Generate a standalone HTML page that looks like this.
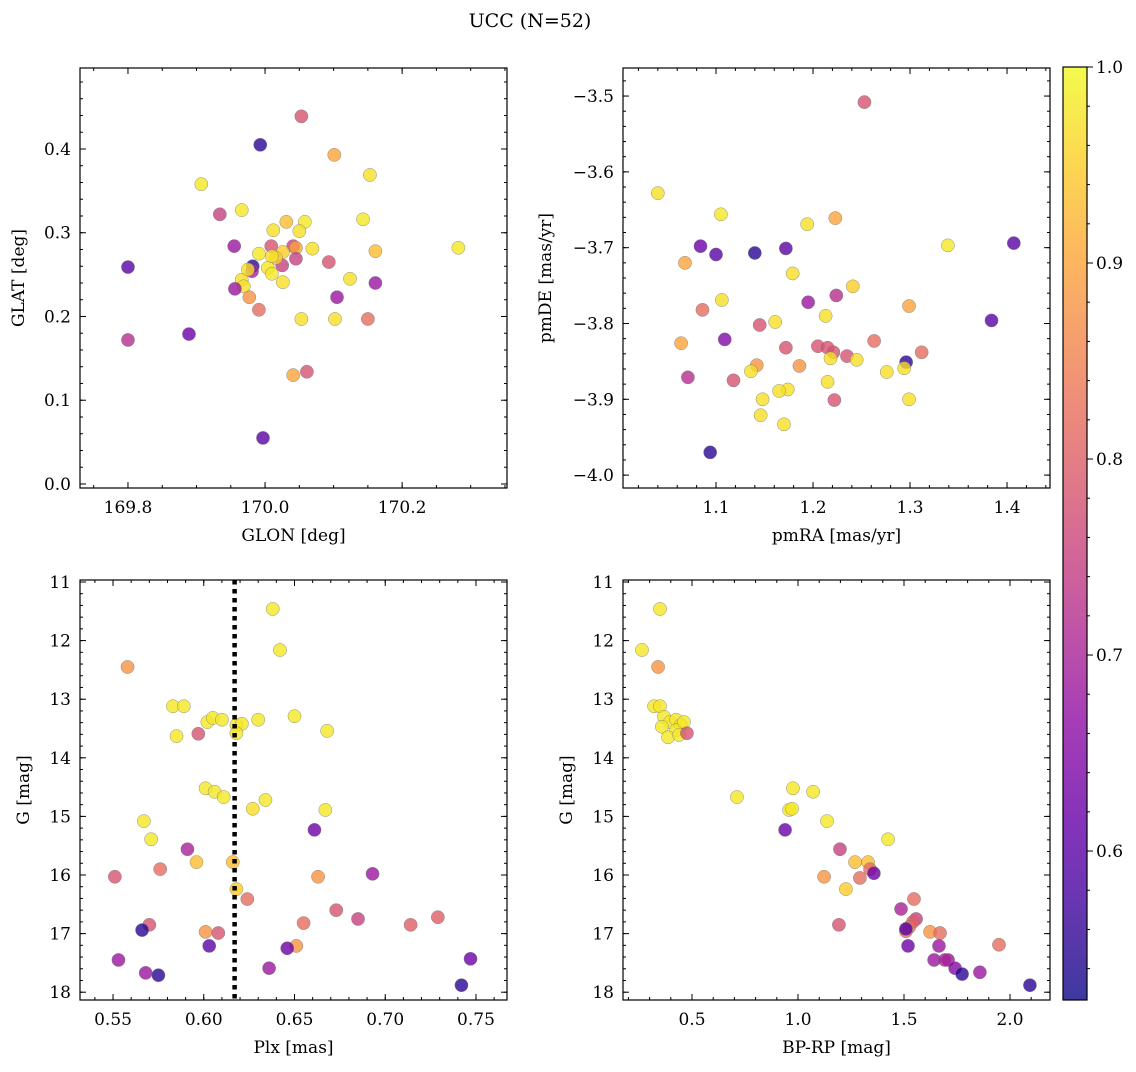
<!DOCTYPE html>
<html><head><meta charset="utf-8">
<style>
html,body{margin:0;padding:0;background:#fff;}
svg text{font-family:"DejaVu Serif","Liberation Serif",serif;fill:#000;}
</style></head>
<body>
<svg id="fig" width="1136" height="1067" viewBox="0 0 1136 1067" xmlns="http://www.w3.org/2000/svg">
<text x="530" y="27" font-size="19" text-anchor="middle">UCC (N=52)</text>
</svg>
<script>
// Panel 1: GLON vs GLAT
const glon1=[170.053,169.993,170.101,170.153,169.907,169.966,169.934,170.031,170.058,170.143,170.012,170.050,169.955,169.991,170.009,170.041,170.026,170.069,170.045,170.093,170.161,170.282,169.800,169.982,169.981,170.004,170.025,170.045,170.016,170.010,170.124,169.966,169.969,170.026,169.956,169.977,170.105,170.161,169.991,170.053,170.102,170.150,169.800,169.889,170.041,170.061,169.997,170.010,169.975];
const glat1=[0.439,0.405,0.393,0.369,0.358,0.327,0.322,0.313,0.313,0.316,0.303,0.302,0.284,0.275,0.284,0.284,0.277,0.281,0.282,0.265,0.278,0.282,0.259,0.260,0.254,0.258,0.261,0.269,0.270,0.251,0.245,0.244,0.236,0.241,0.233,0.223,0.223,0.240,0.208,0.197,0.197,0.197,0.172,0.179,0.130,0.134,0.055,0.272,0.256];
const prob1=[0.78,0.55,0.9,0.97,0.98,0.98,0.75,0.93,0.98,0.98,0.97,0.97,0.68,0.98,0.78,0.75,0.95,0.97,0.9,0.78,0.93,0.98,0.6,0.55,0.7,0.98,0.75,0.75,0.95,0.98,0.97,0.97,0.97,0.97,0.68,0.88,0.68,0.68,0.82,0.97,0.97,0.82,0.72,0.62,0.9,0.78,0.6,0.97,0.97];
// Panel 2: pmRA vs pmDE
const pmra2=[1.253,1.040,1.105,1.194,1.223,1.339,1.407,1.084,1.100,1.140,1.172,1.068,1.179,1.241,1.106,1.195,1.224,1.299,1.086,1.145,1.161,1.213,1.384,1.109,1.064,1.172,1.205,1.215,1.221,1.235,1.218,1.245,1.263,1.312,1.296,1.142,1.186,1.136,1.276,1.294,1.071,1.118,1.215,1.174,1.165,1.148,1.222,1.299,1.146,1.170,1.094];
const pmde2=[-3.508,-3.628,-3.656,-3.669,-3.661,-3.697,-3.694,-3.698,-3.709,-3.707,-3.701,-3.720,-3.734,-3.751,-3.769,-3.772,-3.763,-3.777,-3.782,-3.802,-3.798,-3.790,-3.796,-3.821,-3.826,-3.832,-3.830,-3.832,-3.838,-3.843,-3.846,-3.848,-3.823,-3.838,-3.851,-3.855,-3.856,-3.863,-3.864,-3.859,-3.871,-3.875,-3.877,-3.887,-3.889,-3.900,-3.901,-3.900,-3.921,-3.933,-3.970];
const prob2=[0.78,0.97,0.98,0.97,0.9,0.98,0.6,0.62,0.6,0.55,0.6,0.9,0.97,0.95,0.97,0.68,0.72,0.9,0.82,0.78,0.97,0.97,0.6,0.65,0.9,0.78,0.78,0.78,0.78,0.78,0.97,0.97,0.82,0.82,0.55,0.88,0.88,0.97,0.97,0.97,0.72,0.78,0.97,0.97,0.97,0.97,0.78,0.97,0.97,0.97,0.55];
// Panel 3: Plx vs G
const plx3=[0.638,0.642,0.558,0.583,0.589,0.602,0.605,0.610,0.618,0.621,0.630,0.650,0.618,0.585,0.597,0.668,0.601,0.606,0.611,0.634,0.627,0.667,0.567,0.661,0.571,0.591,0.596,0.616,0.576,0.551,0.663,0.693,0.618,0.624,0.655,0.570,0.566,0.601,0.608,0.673,0.685,0.714,0.729,0.603,0.651,0.646,0.553,0.568,0.575,0.636,0.742,0.747];
const g3=[11.46,12.16,12.45,13.12,13.12,13.39,13.32,13.35,13.44,13.42,13.35,13.29,13.58,13.63,13.59,13.54,14.52,14.58,14.67,14.72,14.87,14.89,15.08,15.23,15.39,15.56,15.78,15.78,15.90,16.03,16.03,15.98,16.24,16.41,16.82,16.85,16.94,16.97,16.99,16.60,16.75,16.85,16.72,17.21,17.21,17.25,17.45,17.67,17.71,17.59,17.88,17.43];
const prob3=[0.98,0.98,0.88,0.98,0.98,0.98,0.98,0.98,0.98,0.98,0.98,0.98,0.98,0.98,0.78,0.98,0.98,0.98,0.98,0.98,0.97,0.98,0.98,0.62,0.98,0.7,0.93,0.93,0.82,0.78,0.88,0.68,0.95,0.82,0.82,0.78,0.55,0.88,0.78,0.78,0.75,0.8,0.8,0.6,0.88,0.62,0.68,0.68,0.55,0.68,0.55,0.62];
const plxLine=0.617;
// Panel 4: BP-RP vs G
const bprp4=[0.264,0.349,0.340,0.321,0.349,0.368,0.396,0.425,0.448,0.425,0.358,0.387,0.439,0.462,0.476,0.976,0.712,0.958,0.972,1.071,1.137,0.939,1.425,1.198,1.123,1.226,1.269,1.330,1.340,1.358,1.292,1.547,1.486,1.557,1.542,1.524,1.509,1.193,1.509,1.623,1.670,1.519,1.665,1.642,1.708,1.693,1.741,1.774,1.858,1.948,2.094];
const g4=[12.16,11.46,12.45,13.12,13.12,13.30,13.39,13.35,13.44,13.53,13.47,13.65,13.61,13.39,13.58,14.52,14.67,14.89,14.87,14.58,15.08,15.23,15.39,15.56,16.03,16.24,15.78,15.78,15.90,15.97,16.05,16.41,16.58,16.75,16.80,16.89,16.96,16.85,16.92,16.97,16.99,17.21,17.21,17.45,17.45,17.45,17.59,17.69,17.66,17.19,17.88];
const prob4=[0.98,0.98,0.88,0.98,0.98,0.98,0.98,0.98,0.98,0.98,0.98,0.98,0.98,0.98,0.78,0.98,0.98,0.98,0.98,0.98,0.98,0.62,0.98,0.75,0.88,0.95,0.93,0.93,0.82,0.62,0.82,0.82,0.7,0.75,0.8,0.82,0.82,0.78,0.6,0.88,0.82,0.62,0.68,0.68,0.68,0.7,0.65,0.55,0.68,0.82,0.55];
// Colorbar
const cbMin=0.524, cbMax=1.0;
const cbTicks=[0.6,0.7,0.8,0.9,1.0];

const NS="http://www.w3.org/2000/svg";
const svg=document.getElementById('fig');
function el(tag,attrs,parent){const e=document.createElementNS(NS,tag);for(const k in attrs)e.setAttribute(k,attrs[k]);(parent||svg).appendChild(e);return e;}
const stops=[[13,8,135],[65,4,157],[106,0,168],[143,13,164],[177,42,144],[204,71,120],[225,100,98],[242,132,75],[252,166,54],[252,206,37],[240,249,33]];
function plasma(t){t=Math.max(0,Math.min(1,t));const f=t*10,i=Math.min(9,Math.floor(f)),u=f-i;const a=stops[i],b=stops[i+1];return 'rgb('+a.map((v,k)=>Math.round(v+(b[k]-v)*u)).join(',')+')';}
function col(p){return plasma((p-cbMin)/(cbMax-cbMin));}
function fmt(v,d){let s=v.toFixed(d);return s.replace('-','\u2212');}
const FS=17;

function panel(o){
  const {name,x0,x1,y0,y1,xmin,xmax,ymin,ymax,xs,ys,ps,xMaj,xMin,yMaj,yMin,xd,yd,xlabel,ylabel,invY}=o;
  const g=el('g',{});
  
  
  const sx=v=>x0+(v-xmin)/(xmax-xmin)*(x1-x0);
  const sy=invY?(v=>y0+(v-ymin)/(ymax-ymin)*(y1-y0)):(v=>y1-(v-ymin)/(ymax-ymin)*(y1-y0));
  o.sx=sx;o.sy=sy;o.g=g;
  const pg=el('g',{},g);
  
  
  for(let i=0;i<xs.length;i++){
    const c=el('circle',{cx:sx(xs[i]),cy:sy(ys[i]),r:6.6,fill:col(ps[i]),'fill-opacity':0.8,stroke:'#777','stroke-width':0.5,'stroke-opacity':0.8},pg);
    
    
  }
  if(o.extra)o.extra(o);
  const fr=el('rect',{x:x0,y:y0,width:x1-x0,height:y1-y0,fill:'none',stroke:'#000','stroke-width':1.2},g);
  
  
  const tg=el('g',{stroke:'#000','stroke-width':1},g);
  
  
  const eps=1e-9;
  for(let v=Math.ceil(xmin/xMin-eps)*xMin;v<=xmax+eps;v+=xMin){const X=sx(v);el('line',{x1:X,x2:X,y1:y1,y2:y1-3},tg);el('line',{x1:X,x2:X,y1:y0,y2:y0+3},tg);}
  for(let v=Math.ceil(ymin/yMin-eps)*yMin;v<=ymax+eps;v+=yMin){const Y=sy(v);el('line',{x1:x0,x2:x0+3,y1:Y,y2:Y},tg);el('line',{x1:x1,x2:x1-3,y1:Y,y2:Y},tg);}
  for(let v=Math.ceil(xmin/xMaj-eps)*xMaj;v<=xmax+eps;v+=xMaj){const X=sx(v);el('line',{x1:X,x2:X,y1:y1,y2:y1-6},tg);el('line',{x1:X,x2:X,y1:y0,y2:y0+6},tg);
    const t=el('text',{x:X,y:y1+25,'font-size':FS,'text-anchor':'middle'},g);t.textContent=fmt(v,xd);
    }
  for(let v=Math.ceil(ymin/yMaj-eps)*yMaj;v<=ymax+eps;v+=yMaj){const Y=sy(v);el('line',{x1:x0,x2:x0+6,y1:Y,y2:Y},tg);el('line',{x1:x1,x2:x1-6,y1:Y,y2:Y},tg);
    const t=el('text',{x:x0-9,y:Y+6,'font-size':FS,'text-anchor':'end'},g);t.textContent=fmt(Math.abs(v)<eps?0:v,yd);
    }
  const xl=el('text',{x:(x0+x1)/2,y:y1+53,'font-size':FS,'text-anchor':'middle'},g);xl.textContent=xlabel;
  
  const ylx=o.ylx, yly=(y0+y1)/2;
  const yl=el('text',{x:ylx,y:yly,'font-size':FS,'text-anchor':'middle',transform:'rotate(-90 '+ylx+' '+yly+')'},g);yl.textContent=ylabel;
  
}

panel({name:'glon-glat-panel',x0:80,x1:507,y0:68,y1:488,xmin:169.730,xmax:170.353,ymin:-0.0048,ymax:0.4967,xs:glon1,ys:glat1,ps:prob1,xMaj:0.2,xMin:0.05,yMaj:0.1,yMin:0.02,xd:1,yd:1,xlabel:'GLON [deg]',ylabel:'GLAT [deg]',ylx:24});
panel({name:'pm-panel',x0:623,x1:1050,y0:68,y1:488,xmin:1.0041,xmax:1.4443,ymin:-4.017,ymax:-3.463,xs:pmra2,ys:pmde2,ps:prob2,xMaj:0.1,xMin:0.02,yMaj:0.1,yMin:0.02,xd:1,yd:1,xlabel:'pmRA [mas/yr]',ylabel:'pmDE [mas/yr]',ylx:551});
panel({name:'plx-g-panel',x0:80,x1:507,y0:580,y1:1000,xmin:0.5318,xmax:0.7671,ymin:10.966,ymax:18.133,invY:true,xs:plx3,ys:g3,ps:prob3,xMaj:0.05,xMin:0.01,yMaj:1,yMin:0.2,xd:2,yd:0,xlabel:'Plx [mas]',ylabel:'G [mag]',ylx:29,
  extra:o=>{const X=o.sx(plxLine);const l=el('line',{x1:X,x2:X,y1:o.y0,y2:o.y1,stroke:'#000','stroke-width':4.5,'stroke-dasharray':'4.5,4.5'},o.g);
    }});
panel({name:'cmd-panel',x0:623,x1:1050,y0:580,y1:1000,xmin:0.1745,xmax:2.1887,ymin:10.966,ymax:18.133,invY:true,xs:bprp4,ys:g4,ps:prob4,xMaj:0.5,xMin:0.1,yMaj:1,yMin:0.2,xd:1,yd:0,xlabel:'BP-RP [mag]',ylabel:'G [mag]',ylx:572});

(function(){
  const cx0=1063,cx1=1087,cy0=67,cy1=1000;
  const g=el('g',{});
  
  
  const defs=el('defs',{},g);
  const lg=el('linearGradient',{id:'cbg',x1:0,y1:1,x2:0,y2:0},defs);
  for(let i=0;i<=20;i++){el('stop',{offset:i/20,'stop-color':plasma(i/20),'stop-opacity':0.8},lg);}
  el('rect',{x:cx0,y:cy0,width:cx1-cx0,height:cy1-cy0,fill:'url(#cbg)',stroke:'#000','stroke-width':1.2},g);
  const sy=v=>cy1-(v-cbMin)/(cbMax-cbMin)*(cy1-cy0);
  for(let v=Math.ceil(cbMin/0.02)*0.02;v<=cbMax+1e-9;v+=0.02){el('line',{x1:cx1,x2:cx1+3,y1:sy(v),y2:sy(v),stroke:'#000'},g);}
  cbTicks.forEach(v=>{const Y=sy(v);el('line',{x1:cx1,x2:cx1+6,y1:Y,y2:Y,stroke:'#000'},g);
    const t=el('text',{x:cx1+9,y:Y+6,'font-size':FS},g);t.textContent=v.toFixed(1);
    });
})();
</script>
</body></html>
